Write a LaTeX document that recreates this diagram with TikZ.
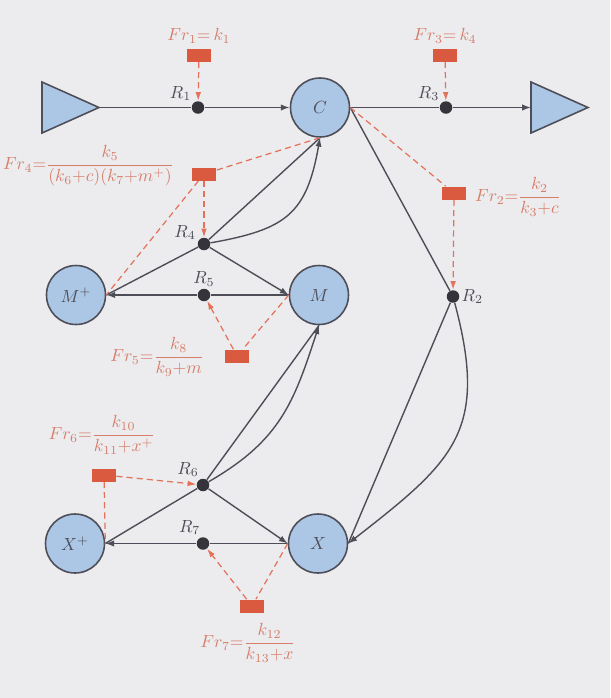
\documentclass[tikz,border=0pt]{standalone}
\usepackage{amsmath}
\usepackage{tikz}
\usetikzlibrary{shapes.geometric, arrows.meta, positioning}
\usepackage{xcolor}
\definecolor{pagegray}{RGB}{236, 236, 239}
\definecolor{speciesblue}{RGB}{172, 198, 229}
\definecolor{edgegray}{RGB}{78, 78, 88}
\definecolor{dotgray}{RGB}{52, 52, 58}
\definecolor{ratered}{RGB}{217, 90, 62}
\definecolor{dashred}{RGB}{228, 114, 90}
\definecolor{lawred}{RGB}{214, 126, 106}
\tikzstyle{species} = [circle, draw=edgegray, fill=speciesblue, line width=0.9pt, minimum size=1.18cm,
                       inner sep=0pt, text=edgegray, font=\normalsize]
\tikzstyle{reservoir} = [isosceles triangle, isosceles triangle stretches, draw=edgegray, fill=speciesblue,
                         line width=0.9pt, minimum width=1.02cm, minimum height=1.14cm, inner sep=0pt,
                         outer sep=0pt, anchor=apex]
\tikzstyle{reaction} = [circle, fill=dotgray, minimum size=0.25cm, inner sep=0pt]
\tikzstyle{rlabel} = [text=edgegray, font=\normalsize, inner sep=1pt]
\tikzstyle{ratebox} = [rectangle, fill=ratered, minimum width=0.48cm, minimum height=0.26cm, inner sep=0pt]
\tikzstyle{ratelaw} = [text=lawred, font=\fontsize{9.6}{11}\selectfont, inner sep=1pt]
\tikzstyle{flow} = [edgegray, line width=0.8pt]
\tikzstyle{arrow} = [flow, -{Latex[length=5pt, width=3.6pt]}]
\tikzstyle{dashedline} = [dashred, line width=0.7pt, dash pattern=on 3.5pt off 2.3pt]
\tikzstyle{dashedarrow} = [dashedline, -{Latex[length=5pt, width=3.2pt]}]

\begin{document}
\begin{tikzpicture}[node distance=0.05cm]

% Page
\fill[pagegray] (0,0) rectangle (12.2,-13.96);
\useasboundingbox (0,0) rectangle (12.2,-13.96);

% Reservoirs
\node[reservoir] (source) at (1.98,-2.15) {};
\node[reservoir] (sink) at (11.76,-2.15) {};

% Species
\node[species] (C) at (6.4,-2.15) {$C$};
\node[species] (Mp) at (1.52,-5.9) {$M^{+}$};
\node[species] (M) at (6.38,-5.9) {$M$};
\node[species] (Xp) at (1.5,-10.87) {$X^{+}$};
\node[species] (X) at (6.36,-10.87) {$X$};

% Reactions
\node[reaction, label={[rlabel]135:$R_1$}] (R1) at (3.96,-2.15) {};
\node[reaction, label={[rlabel]135:$R_3$}] (R3) at (8.92,-2.15) {};
\node[reaction, label={[rlabel]0:$R_2$}] (R2) at (9.06,-5.93) {};
\node[reaction, label={[rlabel]160:$R_4$}] (R4) at (4.08,-4.88) {};
\node[reaction, label={[rlabel]90:$R_5$}] (R5) at (4.08,-5.9) {};
\node[reaction, label={[rlabel]110:$R_6$}] (R6) at (4.06,-9.7) {};
\node[reaction, label={[rlabel]95:$R_7$}] (R7) at (4.06,-10.87) {};

% Rate boxes
\node[ratebox] (F1) at (3.98,-1.1) {};
\node[ratebox] (F3) at (8.9,-1.1) {};
\node[ratebox] (F4) at (4.08,-3.48) {};
\node[ratebox] (F2) at (9.08,-3.86) {};
\node[ratebox] (F5) at (4.74,-7.12) {};
\node[ratebox] (F6) at (2.08,-9.5) {};
\node[ratebox] (F7) at (5.04,-12.12) {};

% Rate laws
\node[ratelaw, above=of F1] (law1) {$Fr_1{=}\,k_1$};
\node[ratelaw, above=of F3] (law3) {$Fr_3{=}\,k_4$};
\node[ratelaw, anchor=east] (law4) at (3.52,-3.32) {$Fr_4{=}\dfrac{k_5}{(k_6{+}c)(k_7{+}m^{+})}$};
\node[ratelaw, anchor=west] (law2) at (9.46,-3.94) {$Fr_2{=}\dfrac{k_2}{k_3{+}c}$};
\node[ratelaw, anchor=east] (law5) at (4.12,-7.14) {$Fr_5{=}\dfrac{k_8}{k_9{+}m}$};
\node[ratelaw] (law6) at (2.04,-8.7) {$Fr_6{=}\dfrac{k_{10}}{k_{11}{+}x^{+}}$};
\node[ratelaw] (law7) at (4.96,-12.86) {$Fr_7{=}\dfrac{k_{12}}{k_{13}{+}x}$};

% Mass flow
\draw[flow] (source) -- (R1);
\draw[arrow] (R1) -- (C.west);
\draw[flow] (C.east) -- (R3);
\draw[arrow] (R3) -- (sink);
\draw[flow] (C.east) -- (R2);
\draw[flow] (R2) -- (X.east);
\draw[arrow] (R2) to[out=-75, in=38, looseness=1.3] (X.east);

\draw[flow] (Mp.east) -- (R4);
\draw[flow] (R4) -- (C.south);
\draw[arrow] (R4) to[out=10, in=-100, looseness=1.3] (C.south);
\draw[arrow] (R4) -- (M.west);
\draw[flow] (M.west) -- (R5);
\draw[arrow] (R5) -- (Mp.east);

\draw[flow] (Xp.east) -- (R6);
\draw[flow] (R6) -- (M.south);
\draw[arrow] (R6) to[out=30, in=-108, looseness=1.1] (M.south);
\draw[arrow] (R6) -- (X.west);
\draw[flow] (X.west) -- (R7);
\draw[arrow] (R7) -- (Xp.east);

% Rate control
\draw[dashedarrow] (F1) -- (R1);
\draw[dashedarrow] (F3) -- (R3);
\draw[dashedline] (C.east) -- (F2);
\draw[dashedarrow] (F2) -- (R2);
\draw[dashedline] (C.south) -- (F4);
\draw[dashedline] (F4) -- (Mp.east);
\draw[dashedarrow] (F4) -- (R4);
\draw[dashedline] (M.west) -- (F5);
\draw[dashedarrow] (F5) -- (R5);
\draw[dashedarrow] (F6) -- (R6);
\draw[dashedline] (F6) -- (Xp.east);
\draw[dashedline] (X.west) -- (F7);
\draw[dashedarrow] (F7) -- (R7);

\end{tikzpicture}
\end{document}
